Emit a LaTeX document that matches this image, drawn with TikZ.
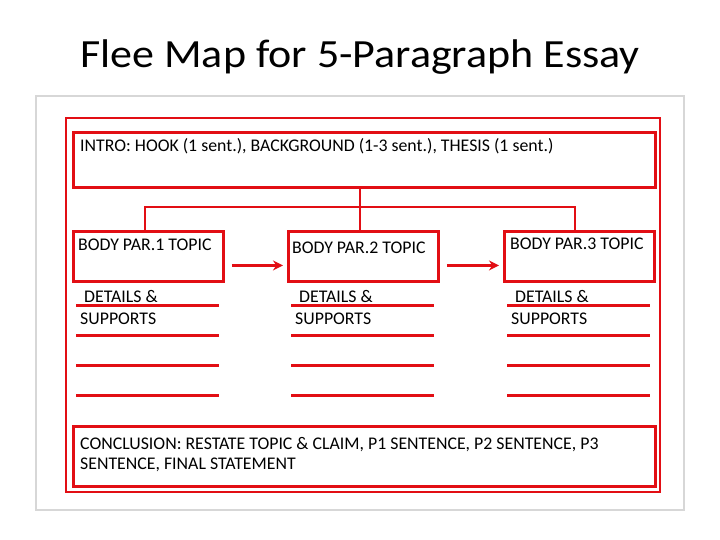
\documentclass[tikz,border=0pt]{standalone}
\usepackage{fontspec}
\setmainfont{Carlito}
\usetikzlibrary{arrows.meta,calc}
\definecolor{mapred}{RGB}{226,14,20}
\definecolor{framegray}{RGB}{215,215,215}
\tikzset{
  redbox/.style={draw=mapred, line width=2.9pt},
  conn/.style={draw=mapred, line width=2.9pt},
  arr/.style={draw=mapred, line width=2.9pt, -{Stealth[length=10pt,width=10pt]}},
  lbl/.style={anchor=base west, inner sep=0pt, font=\fontsize{17.8}{21}\selectfont, text=black},
  rule/.style={draw=mapred, line width=3pt},
}
\begin{document}
\begin{tikzpicture}[x=1pt,y=-1pt]
\useasboundingbox (0,0) rectangle (720,540);
\fill[white] (0,0) rectangle (720,540);
% title
\node[font=\fontsize{40}{46}\selectfont, anchor=base, xscale=1.1, inner sep=0pt] (title) at (360,68) {Flee Map for 5-Paragraph Essay};
% frame
\draw[framegray, line width=1.2pt] (36,96) rectangle (684,510);
\draw[redbox, line width=2.6pt] (66,118) rectangle (660,492);
% intro
\node[redbox, minimum width=582pt, minimum height=55pt, anchor=north west, inner sep=0pt] (intro) at (72,131) {};
\node[lbl] (introt) at (80,152) {INTRO: HOOK (1 sent.), BACKGROUND (1-3 sent.), THESIS (1 sent.)};
% body boxes
\node[redbox, minimum width=150pt, minimum height=50pt, anchor=north west, inner sep=0pt] (b1) at (72,230) {};
\node[redbox, minimum width=150pt, minimum height=50pt, anchor=north west, inner sep=0pt] (b2) at (287,230) {};
\node[redbox, minimum width=150pt, minimum height=50pt, anchor=north west, inner sep=0pt] (b3) at (503,230) {};
\node[lbl] (b1t) at (78,251) {BODY PAR.1 TOPIC};
\node[lbl] (b2t) at (292,253) {BODY PAR.2 TOPIC};
\node[lbl] (b3t) at (510,249) {BODY PAR.3 TOPIC};
% connectors
\coordinate (j) at (360,207);
\draw[conn] (intro.south -| j) -- (j);
\draw[conn] (b1.north -| 145,0) |- (j) -| (b3.north -| 575,0);
\draw[conn] (j) -- (b2.north -| j);
% arrows
\draw[arr] ($(b1.east)+(7,9)$) -- ($(b2.west)+(-4,9)$);
\draw[arr] ($(b2.east)+(7,9)$) -- ($(b3.west)+(-4,9)$);
% details
\foreach \x/\n in {76/d1,291/d2,507/d3}{
  \node[lbl] (\n a) at (\x+8,302) {DETAILS \&};
  \node[lbl] (\n b) at (\x+4,324) {SUPPORTS};
  \foreach \y in {305,335,365,395}{
    \draw[rule] (\x,\y) -- (\x+143,\y);
  }
}
% conclusion
\node[redbox, minimum width=582pt, minimum height=60pt, anchor=north west, inner sep=0pt] (concl) at (72,425) {};
\node[lbl] (conclt1) at (80,449) {CONCLUSION: RESTATE TOPIC \& CLAIM, P1 SENTENCE, P2 SENTENCE, P3};
\node[lbl] (conclt2) at (80,469) {SENTENCE, FINAL STATEMENT};
\end{tikzpicture}
\end{document}
